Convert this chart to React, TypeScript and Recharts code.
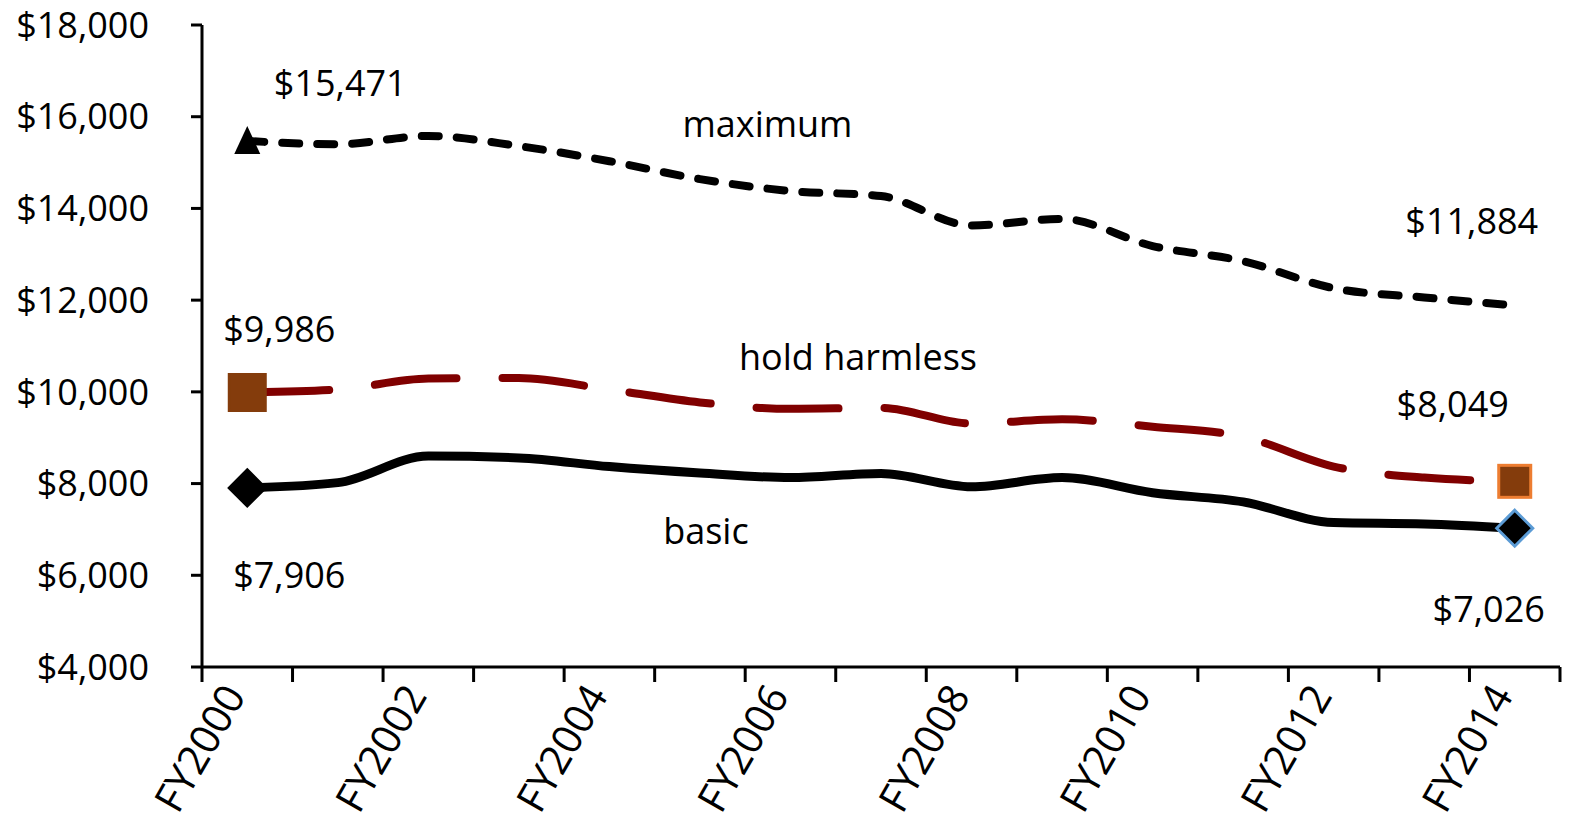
import { LineChart, Line, XAxis, YAxis, LabelList } from 'recharts'

const categories = [
  'FY2000', 'FY2001', 'FY2002', 'FY2003', 'FY2004', 'FY2005', 'FY2006', 'FY2007',
  'FY2008', 'FY2009', 'FY2010', 'FY2011', 'FY2012', 'FY2013', 'FY2014',
]
const maximum = [15471, 15400, 15580, 15360, 15030, 14640, 14380, 14270, 13630, 13770, 13180, 12850, 12260, 12060, 11884]
const holdHarmless = [9986, 10050, 10290, 10300, 10050, 9770, 9630, 9650, 9310, 9400, 9240, 9020, 8370, 8130, 8049]
const basic = [7906, 8020, 8600, 8560, 8370, 8230, 8130, 8220, 7930, 8130, 7800, 7600, 7150, 7120, 7026]
const yTicks = [4000, 6000, 8000, 10000, 12000, 14000, 16000, 18000]

const FONT = '"Open Sans", "DejaVu Sans", sans-serif'
const last = categories.length - 1

const data = categories.map((c, i) => ({
  idx: i,
  year: c,
  max: maximum[i],
  hold: holdHarmless[i],
  basic: basic[i],
}))

const labelTicks = categories.map((_, i) => i).filter(i => i % 2 === 0)
const boundaryTicks = [...categories.map((_, i) => i - 0.5), last + 0.5]

const money = (v: number) => '$' + v.toLocaleString('en-US')

// text annotations, placed relative to a point of the series
const notes: Record<string, { index: number; dx: number; dy: number; text?: string }[]> = {
  max: [
    { index: 0, dx: 93, dy: -58 },
    { index: 6, dx: -23, dy: -68, text: 'maximum' },
    { index: last, dx: -43, dy: -85 },
  ],
  hold: [
    { index: 0, dx: 32, dy: -64 },
    { index: 7, dx: -23, dy: -51, text: 'hold harmless' },
    { index: last, dx: -62, dy: -78 },
  ],
  basic: [
    { index: 0, dx: 42, dy: 87 },
    { index: 5, dx: 6, dy: 57, text: 'basic' },
    { index: last, dx: -26, dy: 80 },
  ],
}

const noteLabel = (key: string) => (props: any) => {
  const { x, y, index, value } = props
  const n = notes[key].find(a => a.index === index)
  if (!n) return null
  return (
    <text
      x={x + n.dx}
      y={y + n.dy}
      textAnchor="middle"
      dominantBaseline="central"
      fontFamily={FONT}
      fontSize={36}
      fill="#000"
    >
      {n.text ?? money(value)}
    </text>
  )
}

const TriangleDot = (props: any) => {
  const { cx, cy, index } = props
  if (index !== 0) return null
  return <path key={index} d={`M${cx},${cy - 15} L${cx + 13},${cy + 13} L${cx - 13},${cy + 13} Z`} fill="#000" />
}

const SquareDot = (props: any) => {
  const { cx, cy, index } = props
  if (index !== 0 && index !== last) return null
  const s = index === 0 ? 36 : 32
  return (
    <rect
      key={index}
      x={cx - s / 2}
      y={cy - s / 2}
      width={s}
      height={s}
      fill="#843C0C"
      stroke={index === last ? '#ED7D31' : '#843C0C'}
      strokeWidth={3}
    />
  )
}

const DiamondDot = (props: any) => {
  const { cx, cy, index } = props
  if (index !== 0 && index !== last) return null
  const r = 18
  return (
    <path
      key={index}
      d={`M${cx},${cy - r} L${cx + r},${cy} L${cx},${cy + r} L${cx - r},${cy} Z`}
      fill="#000"
      stroke={index === last ? '#5B9BD5' : '#000'}
      strokeWidth={3}
    />
  )
}

const YearTick = (props: any) => {
  const { x, y, payload } = props
  return (
    <g transform={`translate(${x - 26},${y + 4})`}>
      <text
        x={0}
        y={0}
        dy="0.72em"
        textAnchor="end"
        transform="rotate(-60)"
        fontFamily={FONT}
        fontSize={41}
        fill="#000"
      >
        {categories[payload.value]}
      </text>
    </g>
  )
}

const NoTick = () => <g />

export default function App() {
  return (
    <div style={{ position: 'absolute', left: 0, top: 0, background: '#fff' }}>
      <LineChart width={1573} height={829} data={data} margin={{ top: 25, right: 13, bottom: 0, left: 0 }}>
        <XAxis
          xAxisId="bnd"
          type="number"
          dataKey="idx"
          domain={[-0.5, last + 0.5]}
          ticks={boundaryTicks}
          interval={0}
          tick={<NoTick />}
          tickSize={15}
          tickLine={{ stroke: '#000', strokeWidth: 3 }}
          axisLine={{ stroke: '#000', strokeWidth: 3 }}
          height={2}
        />
        <XAxis
          xAxisId="lab"
          type="number"
          dataKey="idx"
          domain={[-0.5, last + 0.5]}
          ticks={labelTicks}
          interval={0}
          tick={<YearTick />}
          tickLine={false}
          axisLine={false}
          height={160}
        />
        <YAxis
          domain={[4000, 18000]}
          ticks={yTicks}
          tickFormatter={money}
          width={202}
          tickSize={11}
          tickMargin={42}
          tick={{ fontFamily: FONT, fontSize: 36, fill: '#000' }}
          tickLine={{ stroke: '#000', strokeWidth: 3 }}
          axisLine={{ stroke: '#000', strokeWidth: 3 }}
        />
        <Line
          xAxisId="bnd"
          type="monotone"
          dataKey="max"
          stroke="#000"
          strokeWidth={8}
          strokeDasharray="17 18"
          strokeLinecap="round"
          dot={<TriangleDot />}
          activeDot={false}
          isAnimationActive={false}
        >
          <LabelList dataKey="max" content={noteLabel('max')} />
        </Line>
        <Line
          xAxisId="bnd"
          type="monotone"
          dataKey="hold"
          stroke="#800000"
          strokeWidth={8}
          strokeDasharray="82 46"
          strokeLinecap="round"
          dot={<SquareDot />}
          activeDot={false}
          isAnimationActive={false}
        >
          <LabelList dataKey="hold" content={noteLabel('hold')} />
        </Line>
        <Line
          xAxisId="bnd"
          type="monotone"
          dataKey="basic"
          stroke="#000"
          strokeWidth={9}
          dot={<DiamondDot />}
          activeDot={false}
          isAnimationActive={false}
        >
          <LabelList dataKey="basic" content={noteLabel('basic')} />
        </Line>
      </LineChart>
    </div>
  )
}
